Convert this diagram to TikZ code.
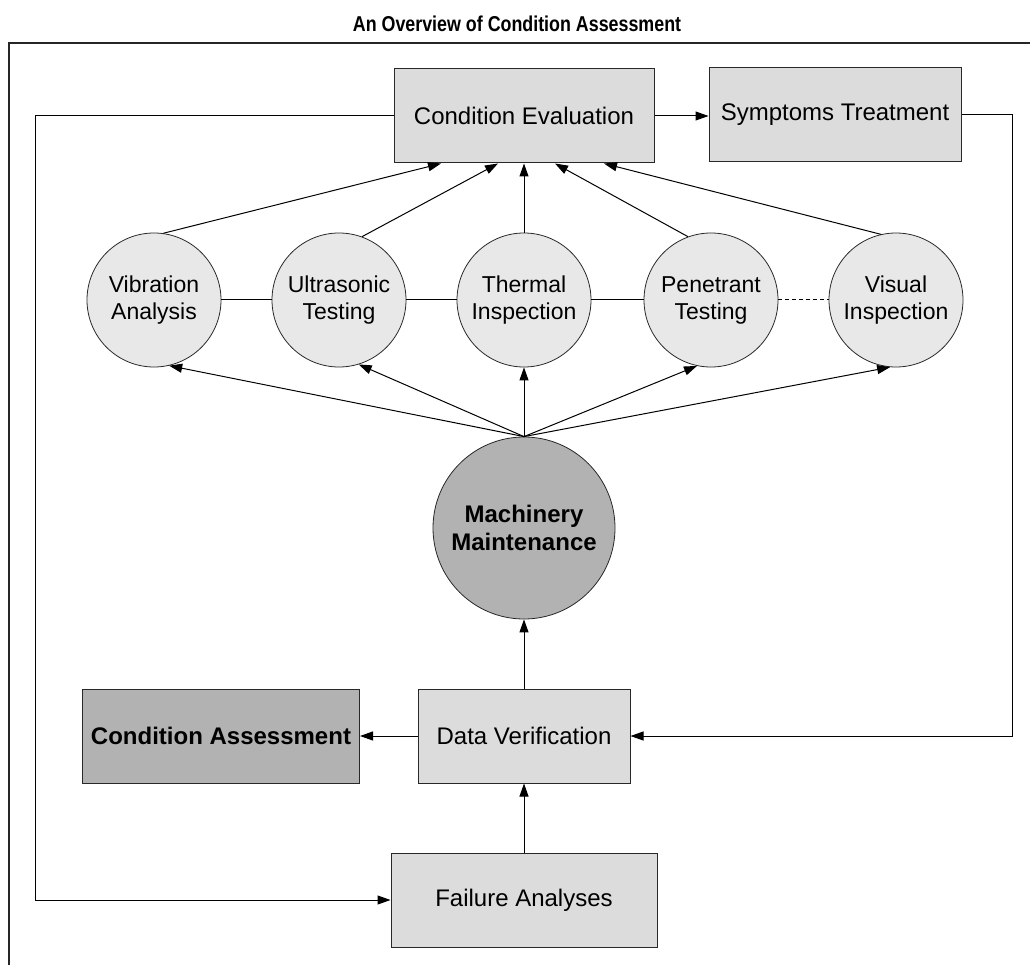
\documentclass[tikz,border=0pt]{standalone}
\usepackage{fontspec}
\setmainfont{Liberation Sans}
\usetikzlibrary{arrows.meta,calc}
\definecolor{boxfill}{RGB}{220,220,220}
\definecolor{circfill}{RGB}{232,232,232}
\definecolor{darkfill}{RGB}{178,178,178}
\definecolor{edgecol}{RGB}{40,40,40}

\begin{document}
\begin{tikzpicture}[x=1pt,y=-1pt,
  box/.style={draw=edgecol, line width=1pt, fill=boxfill, minimum height=94pt,
    inner sep=0pt, font=\fontsize{24}{27}\selectfont, align=center},
  disc/.style={circle, draw=edgecol, line width=0.8pt, fill=circfill,
    minimum size=134pt, inner sep=0pt, font=\fontsize{23}{27}\selectfont, align=center},
  boldtext/.style={font=\fontsize{24}{28}\selectfont\bfseries},
  conn/.style={line width=1pt, draw=black},
  arr/.style={conn, -{Triangle[length=13pt,width=9pt]}},
]
\useasboundingbox (0,0) rectangle (1030,965);
\fill[white] (0,0) rectangle (1030,965);

% heading and outer frame
\node (title) at (517,24) {\scalebox{0.83}[1]{\fontsize{21.5}{24}\selectfont\bfseries An Overview of Condition Assessment}};
\draw[line width=1.6pt, black!85] (9,975) -- (9,43) -- (1040,43);

% boxes
\node[box, minimum width=260pt] (ce) at (524,116) {Condition Evaluation};
\node[box, minimum width=252pt] (st) at (835,115) {Symptoms Treatment};
\node[box, minimum width=212pt] (dv) at (524,736) {Data Verification};
\node[box, minimum width=277pt, fill=darkfill, boldtext] (ca) at (221,736) {Condition Assessment};
\node[box, minimum width=266pt] (fa) at (524,900) {Failure Analyses};

% inspection techniques
\node[disc] (vib) at (154,300) {Vibration\\Analysis};
\node[disc] (ult) at (339,300) {Ultrasonic\\Testing};
\node[disc] (therm) at (524,300) {Thermal\\Inspection};
\node[disc] (pen) at (711,300) {Penetrant\\Testing};
\node[disc] (vis) at (896,300) {Visual\\Inspection};

\node[disc, minimum size=182pt, fill=darkfill, boldtext] (mm) at (524,528) {Machinery\\Maintenance};

% links between the techniques
\draw[conn] (vib.east) -- (ult.west);
\draw[conn] (ult.east) -- (therm.west);
\draw[conn] (therm.east) -- (pen.west);
\draw[conn, dash pattern=on 4pt off 3pt] (pen.east) -- (vis.west);

% techniques feed the evaluation
\draw[arr] (vib.82) -- ($(ce.south)+(-83,0)$);
\draw[arr] (ult.70) -- ($(ce.south)+(-26,0)$);
\draw[arr] (therm.north) -- (ce.south);
\draw[arr] (pen.110) -- ($(ce.south)+(31,0)$);
\draw[arr] (vis.103) -- ($(ce.south)+(80,0)$);

% maintenance drives the techniques
\draw[arr] (mm.north) -- (vib.283);
\draw[arr] (mm.north) -- (ult.287);
\draw[arr] (mm.north) -- (therm.south);
\draw[arr] (mm.north) -- (pen.258);
\draw[arr] (mm.north) -- (vis.265);

% main flow
\draw[arr] (ce.east) -- (st.west |- ce.east);
\coordinate (rt) at (1012,0);
\coordinate (lf) at (35,0);
\draw[arr] (st.east) -- (st.east -| rt) -- (dv.east -| rt) -- (dv.east);
\draw[arr] (ce.west) -- (ce.west -| lf) -- (fa.west -| lf) -- (fa.west);
\draw[arr] (dv.north) -- (mm.south);
\draw[arr] (fa.north) -- (dv.south);
\draw[arr] (dv.west) -- (ca.east);
\end{tikzpicture}
\end{document}
